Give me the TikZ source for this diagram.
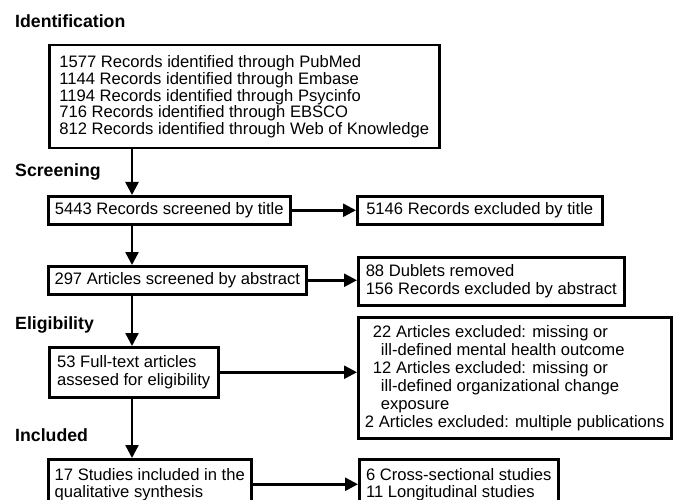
\documentclass[tikz,border=0pt]{standalone}
\usepackage{fontspec}
\setmainfont{Liberation Sans}
\usetikzlibrary{arrows.meta}
\begin{document}
\begin{tikzpicture}[x=1pt,y=-1pt,
  bx/.style={draw, line width=2.5pt, rectangle, anchor=north west, inner sep=0pt, align=left, font=\fontsize{16.6}{17.5}\selectfont},
  hd/.style={anchor=base west, inner sep=0pt, font=\fontsize{17.7}{20}\selectfont\bfseries},
  arr/.style={line width=2.5pt, -{Triangle[length=13pt,width=13pt]}}]
\useasboundingbox (0,0) rectangle (675,500);
\clip (0,0) rectangle (675,500);
% headings
\node[hd] (h1) at (15,28) {Identification};
\node[hd] (h2) at (15,177) {Screening};
\node[hd] (h3) at (15,329) {Eligibility};
\node[hd] (h4) at (15,441) {Included};
% left column
\node[bx, minimum width=390pt, minimum height=103pt, font=\fontsize{16.6}{16.9}\selectfont] (b1) at (48,44)
 {1577 Records identified through PubMed\\
  1144 Records identified through Embase\\
  1194 Records identified through Psycinfo\\
  716 Records identified through EBSCO\\
  812 Records identified through Web of Knowledge};
\node[bx, minimum width=242pt, minimum height=28pt] (b2) at (47,195) {5443 Records screened by title};
\node[bx, minimum width=258pt, minimum height=28pt] (b3) at (47,265) {297 Articles screened by abstract};
\node[bx, minimum width=169pt, minimum height=50pt, font=\fontsize{16.6}{18}\selectfont] (b4) at (48,346) {53 Full-text articles\\assesed for eligibility};
\node[bx, minimum width=203pt, minimum height=50pt, font=\fontsize{16.6}{17}\selectfont] (b5) at (47,458) {17 Studies included in the\\qualitative synthesis};
% right column
\node[bx, minimum width=245pt, minimum height=28pt] (r1) at (356,195) {5146 Records excluded by title};
\node[bx, minimum width=266pt, minimum height=48pt, font=\fontsize{16.6}{18}\selectfont] (r2) at (357,256) {88 Dublets removed\\156 Records excluded by abstract};
\node[bx, minimum width=313pt, minimum height=121pt, font=\fontsize{16.6}{18}\selectfont] (r3) at (357,316)
 {\hspace*{8pt}22 Articles excluded: missing or\\
  \hspace*{16pt}ill-defined mental health outcome\\
  \hspace*{8pt}12 Articles excluded: missing or\\
  \hspace*{16pt}ill-defined organizational change\\
  \hspace*{16pt}exposure\\
  2 Articles excluded: multiple publications};
\node[bx, minimum width=199pt, minimum height=50pt, font=\fontsize{16.6}{17}\selectfont] (r4) at (358,458) {6 Cross-sectional studies\\11 Longitudinal studies};
% vertical arrows
\coordinate (vx) at (132,0);
\draw[arr] (vx |- b1.south) -- (vx |- b2.north);
\draw[arr] (vx |- b2.south) -- (vx |- b3.north);
\draw[arr] (vx |- b3.south) -- (vx |- b4.north);
\draw[arr] (vx |- b4.south) -- (vx |- b5.north);
% horizontal arrows
\draw[arr] (b2.east) -- (b2.east -| r1.west);
\draw[arr] (b3.east) -- (b3.east -| r2.west);
\draw[arr] (b4.east) -- (b4.east -| r3.west);
\draw[arr] (b5.east) -- (b5.east -| r4.west);
\end{tikzpicture}
\end{document}
